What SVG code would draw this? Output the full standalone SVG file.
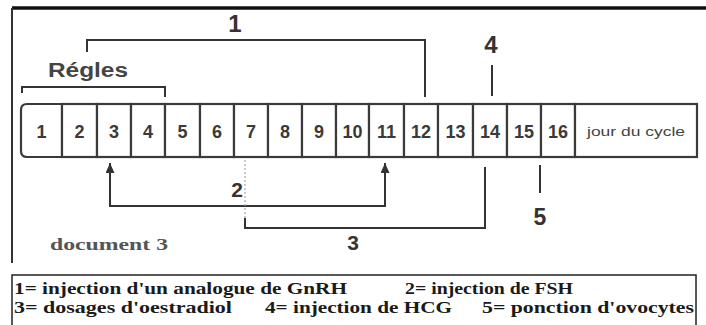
<svg xmlns="http://www.w3.org/2000/svg" width="706" height="325" viewBox="0 0 706 325">
<style>
.cell{fill:#fff;stroke:#3a3a3a;stroke-width:2.2}
.num{font-family:"Liberation Sans",Arial,sans-serif;font-weight:bold;font-size:18px;fill:#3a3a3a;text-anchor:middle}
.lbl{font-family:"Liberation Sans",Arial,sans-serif;font-weight:bold;fill:#333;text-anchor:middle}
.conn{fill:none;stroke:#333;stroke-width:2}
.arr{fill:none;stroke:#333;stroke-width:2;marker-start:url(#ah);marker-end:url(#ah)}
.leg{font-family:"Liberation Serif","Times New Roman",serif;font-weight:bold;font-size:16px;fill:#1a1a1a}
</style>
<defs>
<marker id="ah" viewBox="0 0 10 9" refX="10" refY="4.5" markerWidth="10" markerHeight="9" markerUnits="userSpaceOnUse" orient="auto-start-reverse">
<path d="M0,0 L10,4.5 L0,9 Z" fill="#333"/>
</marker>
</defs>
<rect width="706" height="325" fill="#fff"/>
<g id="frame">
<path d="M12 8 H706" stroke="#111" stroke-width="3.5"/>
<path d="M12 8 V263" stroke="#333" stroke-width="2"/>
</g>
<g id="strip">
<g id="day-1"><path class="cell" d="M62 104 H27 Q21 104 21 110 V151 Q21 157 27 157 H62 Z"/><text class="num" x="41.5" y="138">1</text></g>
<g id="day-2"><rect class="cell" x="62" y="104" width="35" height="53"/><text class="num" x="79.5" y="138">2</text></g>
<g id="day-3"><rect class="cell" x="97" y="104" width="34" height="53"/><text class="num" x="114" y="138">3</text></g>
<g id="day-4"><rect class="cell" x="131" y="104" width="34" height="53"/><text class="num" x="148" y="138">4</text></g>
<g id="day-5"><rect class="cell" x="165" y="104" width="35" height="53"/><text class="num" x="182.5" y="138">5</text></g>
<g id="day-6"><rect class="cell" x="200" y="104" width="34" height="53"/><text class="num" x="217" y="138">6</text></g>
<g id="day-7"><rect class="cell" x="234" y="104" width="34" height="53"/><text class="num" x="251" y="138">7</text></g>
<g id="day-8"><rect class="cell" x="268" y="104" width="34" height="53"/><text class="num" x="285" y="138">8</text></g>
<g id="day-9"><rect class="cell" x="302" y="104" width="34" height="53"/><text class="num" x="319" y="138">9</text></g>
<g id="day-10"><rect class="cell" x="336" y="104" width="33" height="53"/><text class="num" x="352.5" y="138">10</text></g>
<g id="day-11"><rect class="cell" x="369" y="104" width="35" height="53"/><text class="num" x="386.5" y="138">11</text></g>
<g id="day-12"><rect class="cell" x="404" y="104" width="34" height="53"/><text class="num" x="421" y="138">12</text></g>
<g id="day-13"><rect class="cell" x="438" y="104" width="35" height="53"/><text class="num" x="455.5" y="138">13</text></g>
<g id="day-14"><rect class="cell" x="473" y="104" width="34" height="53"/><text class="num" x="490" y="138">14</text></g>
<g id="day-15"><rect class="cell" x="507" y="104" width="34" height="53"/><text class="num" x="524" y="138">15</text></g>
<g id="day-16"><rect class="cell" x="541" y="104" width="34" height="53"/><text class="num" x="558" y="138">16</text></g>
<g id="cycle-label"><rect class="cell" x="575" y="104" width="122" height="53"/><text x="636" y="136" font-family="'Liberation Sans',Arial,sans-serif" font-size="12.5" fill="#444" text-anchor="middle" textLength="98" lengthAdjust="spacingAndGlyphs">jour du cycle</text></g>
</g>
<g id="connectors">
<path class="conn" d="M87 52 V40 H425 V97"/>
<path class="conn" d="M22 93 V87 H165 V97"/>
<path class="conn" d="M492 65 V96"/>
<path class="arr" d="M110 163 V206 H385 V163"/>
<path d="M245 160 V222" fill="none" stroke="#aaa" stroke-width="1.2" stroke-dasharray="2 2"/>
<path class="conn" d="M245 218 V228 H485 V167"/>
<path class="conn" d="M540 165 V193"/>
</g>
<g id="label-regles"><text x="48" y="77" font-family="'Liberation Sans',Arial,sans-serif" font-weight="bold" font-size="20" fill="#444" textLength="80" lengthAdjust="spacingAndGlyphs">Régles</text></g>
<g id="label-1"><text class="lbl" x="235" y="32" font-size="24">1</text></g>
<g id="label-4"><text class="lbl" x="491" y="53" font-size="24">4</text></g>
<g id="label-2"><text class="lbl" x="237" y="197" font-size="21">2</text></g>
<g id="label-3"><text class="lbl" x="353" y="250" font-size="21">3</text></g>
<g id="label-5"><text class="lbl" x="540" y="225" font-size="23">5</text></g>
<g id="doc-label"><text x="50" y="250" font-family="'Liberation Serif','Times New Roman',serif" font-weight="bold" font-size="17" fill="#555" textLength="118" lengthAdjust="spacingAndGlyphs">document 3</text></g>
<g id="legend">
<rect x="12" y="275" width="684" height="60" fill="#fff" stroke="#222" stroke-width="1.5"/>
<text class="leg" x="14" y="294" textLength="333" lengthAdjust="spacingAndGlyphs">1= injection d'un analogue de GnRH</text>
<text class="leg" x="405" y="294" textLength="168" lengthAdjust="spacingAndGlyphs">2= injection de FSH</text>
<text class="leg" x="14" y="313" textLength="218" lengthAdjust="spacingAndGlyphs">3= dosages d'oestradiol</text>
<text class="leg" x="265" y="313" textLength="187" lengthAdjust="spacingAndGlyphs">4= injection de HCG</text>
<text class="leg" x="482" y="313" textLength="212" lengthAdjust="spacingAndGlyphs">5= ponction d'ovocytes</text>
</g>
</svg>
